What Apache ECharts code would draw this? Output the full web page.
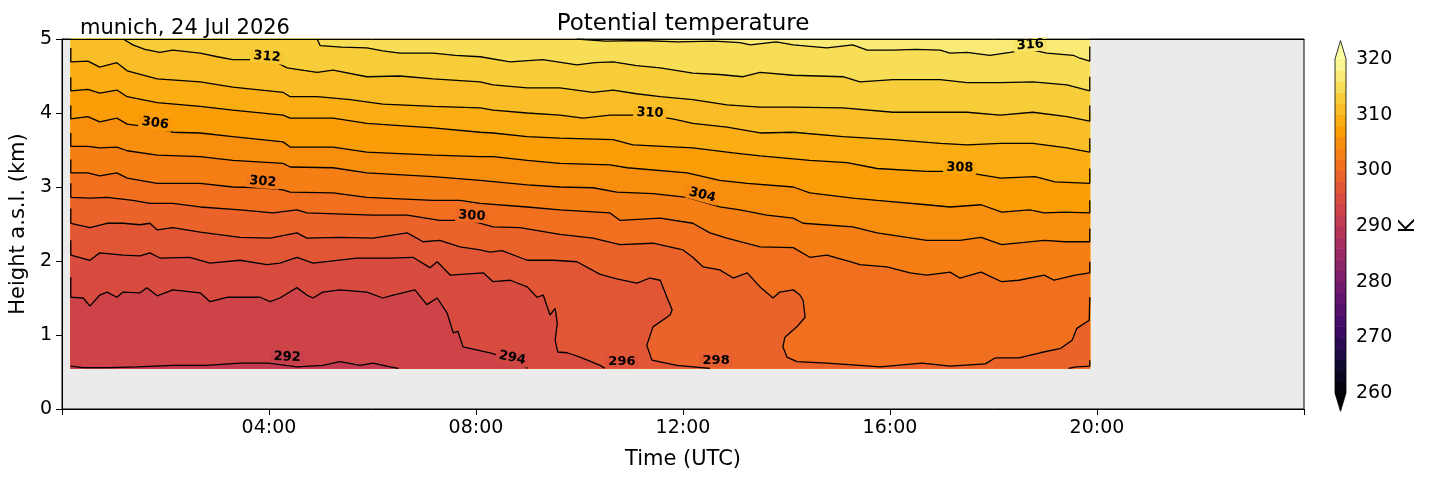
<!DOCTYPE html>
<html>
<head>
<meta charset="utf-8">
<script src="https://cdn.jsdelivr.net/npm/echarts@6/dist/echarts.min.js"></script>
<style>
  html, body { margin: 0; padding: 0; background: #fff; }
  #chart { width: 1429px; height: 478px; }
</style>
</head>
<body>
<div id="chart"></div>
<script>
// extent of the measured field [hour UTC, km]
var tStart = 0.17, tEnd = 19.86, hBottom = 0.55, hTop = 5.0;

// isentropes, points are [hour UTC, height km]
var c292 = [[0.17,0.58],[0.4,0.56],[0.9,0.56],[1.45,0.57],[2.14,0.59],[2.80,0.59],[3.44,0.62],[4.0,0.62],[4.54,0.57],[5.04,0.59],[5.37,0.64],[5.76,0.59],[6.01,0.62],[6.34,0.57],[6.5,0.55]];
var c294 = [[0.17,1.78],[0.17,1.51],[0.41,1.50],[0.54,1.39],[0.73,1.54],[0.87,1.58],[1.06,1.51],[1.18,1.58],[1.51,1.57],[1.64,1.64],[1.84,1.53],[2.14,1.61],[2.67,1.57],[2.86,1.45],[3.19,1.51],[3.83,1.51],[4.02,1.45],[4.21,1.50],[4.54,1.64],[4.73,1.54],[4.85,1.50],[5.04,1.58],[5.37,1.61],[5.89,1.58],[6.20,1.50],[6.40,1.54],[6.82,1.61],[7.05,1.41],[7.25,1.50],[7.44,1.30],[7.56,1.03],[7.65,1.05],[7.75,0.84],[8.27,0.76],[8.6,0.69],[8.95,0.57],[9.0,0.55]];
var c296 = [[0.17,2.28],[0.17,2.08],[0.54,2.01],[0.73,2.11],[1.18,2.08],[1.51,2.07],[1.70,2.11],[1.89,2.04],[2.47,2.05],[2.86,1.97],[3.44,2.01],[3.96,1.95],[4.21,1.97],[4.54,2.05],[4.85,1.97],[5.70,2.04],[6.34,2.04],[6.78,2.05],[7.11,1.91],[7.25,1.99],[7.50,1.81],[8.14,1.84],[8.33,1.72],[8.66,1.74],[8.99,1.65],[9.18,1.51],[9.30,1.54],[9.43,1.27],[9.53,1.36],[9.57,1.16],[9.53,0.93],[9.58,0.77],[9.76,0.76],[10.01,0.70],[10.4,0.59],[10.49,0.55]];
var c298 = [[0.17,2.71],[0.17,2.51],[0.54,2.45],[0.87,2.51],[1.18,2.51],[1.51,2.49],[1.70,2.51],[1.84,2.42],[2.14,2.45],[2.67,2.39],[3.44,2.32],[4.02,2.31],[4.54,2.38],[4.73,2.31],[5.37,2.32],[6.01,2.31],[6.67,2.38],[6.98,2.26],[7.30,2.28],[7.69,2.19],[8.08,2.15],[8.27,2.12],[8.5,2.14],[8.99,2.01],[9.49,2.01],[9.95,1.99],[10.4,1.82],[10.72,1.76],[11.11,1.70],[11.36,1.77],[11.56,1.74],[11.69,1.51],[11.79,1.34],[11.75,1.27],[11.42,1.11],[11.30,0.86],[11.40,0.66],[11.88,0.59],[12.52,0.55]];
var c298b = [[19.45,0.55],[19.6,0.57],[19.86,0.58],[19.86,0.66]];
var c300 = [[0.17,3.05],[0.17,2.86],[0.54,2.85],[0.87,2.86],[1.37,2.82],[1.70,2.78],[2.14,2.78],[2.67,2.73],[3.44,2.69],[4.08,2.65],[4.54,2.69],[4.73,2.65],[6.01,2.62],[6.67,2.62],[7.30,2.55],[7.88,2.55],[8.33,2.46],[8.85,2.45],[9.62,2.36],[10.26,2.31],[10.78,2.22],[11.42,2.24],[12.0,2.15],[12.19,2.05],[12.39,1.92],[12.71,1.88],[12.97,1.77],[13.24,1.84],[13.49,1.65],[13.74,1.50],[13.87,1.58],[14.13,1.61],[14.26,1.54],[14.32,1.47],[14.36,1.24],[14.2,1.11],[13.97,0.97],[13.93,0.84],[14.01,0.70],[14.2,0.64],[14.78,0.62],[15.42,0.59],[15.81,0.57],[16.62,0.62],[17.16,0.58],[17.84,0.61],[18.03,0.69],[18.49,0.69],[18.90,0.76],[19.30,0.82],[19.52,0.93],[19.61,1.09],[19.85,1.20],[19.86,1.51]];
var c302 = [[0.17,3.37],[0.17,3.19],[0.50,3.19],[0.73,3.15],[1.06,3.19],[1.26,3.12],[1.84,3.05],[2.67,3.05],[3.30,3.00],[3.88,2.99],[4.27,2.96],[4.41,2.93],[5.24,2.92],[5.89,2.86],[7.17,2.82],[7.69,2.82],[8.08,2.78],[8.99,2.73],[9.62,2.69],[10.59,2.65],[10.78,2.55],[11.56,2.58],[12.19,2.51],[12.52,2.38],[12.85,2.31],[13.49,2.19],[14.13,2.18],[14.45,2.05],[14.78,2.08],[15.23,1.99],[15.42,1.95],[15.94,1.92],[16.39,1.84],[16.71,1.81],[17.16,1.85],[17.35,1.77],[17.76,1.85],[18.16,1.72],[18.49,1.74],[18.98,1.81],[19.17,1.74],[19.58,1.81],[19.86,1.84],[19.86,1.99]];
var c304 = [[0.17,3.73],[0.17,3.55],[0.50,3.55],[0.73,3.53],[1.06,3.54],[1.26,3.49],[1.84,3.43],[2.67,3.41],[3.30,3.36],[4.27,3.32],[4.41,3.27],[5.24,3.26],[5.89,3.19],[7.17,3.14],[8.08,3.09],[8.99,3.03],[9.62,3.00],[10.26,2.99],[10.72,2.93],[11.42,2.91],[12.08,2.86],[12.71,2.73],[13.10,2.69],[13.62,2.62],[14.13,2.58],[14.32,2.51],[15.28,2.46],[15.75,2.38],[16.71,2.28],[17.35,2.28],[17.76,2.32],[18.16,2.22],[18.98,2.28],[19.38,2.26],[19.86,2.26],[19.86,2.44]];
var c306 = [[0.17,4.10],[0.17,3.92],[0.50,3.95],[0.73,3.88],[1.06,3.93],[1.26,3.85],[1.80,3.80],[2.14,3.74],[2.67,3.73],[3.30,3.68],[4.27,3.61],[4.41,3.54],[5.24,3.54],[5.89,3.47],[7.17,3.43],[8.08,3.41],[8.33,3.41],[8.99,3.36],[9.62,3.32],[10.59,3.30],[10.92,3.26],[12.08,3.19],[12.71,3.09],[13.24,3.05],[14.13,3.00],[14.45,2.92],[15.28,2.85],[15.75,2.82],[16.71,2.76],[17.16,2.73],[17.76,2.76],[18.16,2.66],[18.7,2.69],[18.98,2.65],[19.38,2.66],[19.86,2.65],[19.86,2.82]];
var c308 = [[0.17,4.48],[0.17,4.30],[0.50,4.32],[0.73,4.27],[1.06,4.31],[1.26,4.22],[1.84,4.14],[2.67,4.09],[3.30,4.04],[4.27,3.97],[4.41,3.93],[5.24,3.93],[5.89,3.86],[7.17,3.80],[8.08,3.74],[8.33,3.73],[8.99,3.68],[9.62,3.66],[10.65,3.64],[11.03,3.57],[12.19,3.53],[12.97,3.46],[13.49,3.42],[14.45,3.36],[15.17,3.33],[15.75,3.25],[16.71,3.21],[17.35,3.21],[18.14,3.12],[18.8,3.14],[19.19,3.07],[19.86,3.05],[19.86,3.25]];
var c310 = [[0.17,4.88],[0.17,4.69],[0.50,4.70],[0.73,4.62],[1.06,4.68],[1.26,4.57],[1.84,4.46],[2.67,4.42],[3.30,4.35],[4.27,4.28],[4.41,4.22],[4.93,4.22],[5.57,4.18],[6.20,4.12],[7.17,4.09],[8.08,4.07],[8.33,4.04],[8.99,4.00],[9.62,3.97],[10.07,3.93],[10.59,3.97],[11.32,3.97],[11.8,3.92],[12.19,3.86],[12.85,3.81],[13.49,3.73],[14.13,3.74],[15.09,3.68],[16.06,3.64],[16.97,3.59],[17.49,3.57],[18.13,3.59],[18.76,3.59],[19.42,3.53],[19.86,3.47],[19.86,3.66]];
var c312 = [[1.18,5.0],[1.37,4.92],[1.6,4.86],[1.89,4.82],[2.14,4.85],[2.67,4.81],[3.0,4.76],[3.30,4.72],[3.77,4.72],[4.05,4.72],[4.35,4.61],[4.93,4.55],[5.24,4.58],[5.89,4.49],[6.53,4.50],[7.17,4.46],[8.08,4.42],[8.33,4.38],[8.99,4.34],[9.62,4.34],[10.26,4.28],[10.65,4.31],[11.1,4.26],[11.56,4.22],[12.19,4.18],[12.85,4.11],[13.49,4.08],[14.13,4.08],[15.09,4.07],[16.06,4.01],[16.97,4.01],[17.49,4.01],[18.13,3.97],[18.76,4.01],[19.42,3.95],[19.86,3.89],[19.86,4.10]];
var c314 = [[4.93,5.0],[4.99,4.91],[5.4,4.89],[5.89,4.88],[6.2,4.84],[6.53,4.81],[7.17,4.81],[7.6,4.78],[8.08,4.76],[8.66,4.69],[9.29,4.72],[9.95,4.65],[10.3,4.68],[10.65,4.69],[11.1,4.64],[11.56,4.61],[12.19,4.54],[12.7,4.52],[13.16,4.49],[13.49,4.55],[14.13,4.51],[15.09,4.49],[15.42,4.42],[16.06,4.45],[16.97,4.45],[17.49,4.41],[18.13,4.41],[18.76,4.42],[19.42,4.38],[19.86,4.30],[19.86,4.49]];
var c316 = [[9.95,5.0],[10.5,4.97],[11.2,4.98],[11.9,4.96],[12.6,4.97],[13.1,4.95],[13.3,4.92],[13.8,4.96],[14.13,4.92],[14.78,4.88],[15.28,4.92],[15.56,4.85],[16.06,4.85],[16.5,4.86],[16.97,4.85],[17.16,4.81],[17.49,4.82],[17.93,4.78],[18.32,4.82],[18.7,4.86],[19.03,4.81],[19.54,4.78],[19.67,4.74],[19.86,4.70],[19.86,4.90]];

var levels = [292, 294, 296, 298, 300, 302, 304, 306, 308, 310, 312, 314, 316];
var contours = [c292, c294, c296, c298, c300, c302, c304, c306, c308, c310, c312, c314, c316];

// inline contour labels [hour, km, level]
var labelPos = [[3.96,4.76,312],[1.80,3.86,306],[3.88,3.07,302],[7.92,2.61,300],[11.36,4.00,310],[12.37,2.89,304],[17.35,3.26,308],[18.71,4.92,316],[4.35,0.70,292],[8.70,0.69,294],[10.82,0.64,296],[12.64,0.66,298]];
var labelRot = {312: -5, 306: -8, 302: -5, 300: -4, 310: -3, 304: -15, 308: -2, 316: 4, 292: -2, 294: -12, 296: 0, 298: 0};

// colour bar
var cbMin = 260, cbMax = 320;
var cbBands = [260, 262, 264, 266, 268, 270, 272, 274, 276, 278, 280, 282, 284, 286, 288, 290, 292, 294, 296, 298, 300, 302, 304, 306, 308, 310, 312, 314, 316, 318];
var cbExtend = 3.3;

// inferno colormap
var infernoStops = [
  [0.000, '#000004'], [0.100, '#160b39'], [0.111, '#1b0c41'], [0.200, '#420a68'],
  [0.222, '#4a0c6b'], [0.300, '#6a176e'], [0.333, '#781c6d'], [0.400, '#932667'],
  [0.444, '#a52c60'], [0.500, '#bc3754'], [0.556, '#cf4446'], [0.600, '#dd513a'],
  [0.667, '#ed6925'], [0.700, '#f37819'], [0.778, '#fb9b06'], [0.800, '#fca50a'],
  [0.889, '#f7d13d'], [0.900, '#f6d746'], [1.000, '#fcffa4']
];
function hexRgb(h) {
  return [parseInt(h.substr(1, 2), 16), parseInt(h.substr(3, 2), 16), parseInt(h.substr(5, 2), 16)];
}
function inferno(p) {
  p = Math.max(0, Math.min(1, p));
  for (var i = 1; i < infernoStops.length; i++) {
    if (p <= infernoStops[i][0]) {
      var a = infernoStops[i - 1], b = infernoStops[i];
      var f = (p - a[0]) / (b[0] - a[0]);
      var ca = hexRgb(a[1]), cb = hexRgb(b[1]);
      return 'rgb(' + ca.map(function (v, k) { return Math.round(v + (cb[k] - v) * f); }).join(',') + ')';
    }
  }
  return infernoStops[infernoStops.length - 1][1];
}
function bandColor(lo) { return inferno((lo + 1 - cbMin) / (cbMax - cbMin)); }

// filled bands: everything above the top isentrope first, then each isentrope
// paints the region below it with the band just under its level
var fills = [{
  pts: [[tStart, hBottom], [tStart, hTop], [tEnd, hTop], [tEnd, hBottom]],
  color: bandColor(levels[levels.length - 1])
}];
for (var i = levels.length - 1; i >= 0; i--) {
  var c = contours[i];
  var pts = c.slice();
  if (c[0][1] >= hTop - 0.001) pts.unshift([tStart, hTop]);
  if (c[c.length - 1][1] <= hBottom + 0.001) {
    pts.push([tStart, hBottom]);
  } else {
    pts.push([tEnd, hBottom]);
    pts.push([tStart, hBottom]);
  }
  fills.push({ pts: pts, color: bandColor(levels[i] - 2) });
}

var chart = echarts.init(document.getElementById('chart'));
var font = 'DejaVu Sans';

var lineSeries = contours.concat([c298b]).map(function (c) {
  return {
    type: 'line',
    xAxisIndex: 0, yAxisIndex: 0,
    data: c,
    showSymbol: false,
    symbol: 'none',
    silent: true,
    z: 3,
    lineStyle: { color: '#000', width: 1.3 }
  };
});

var option = {
  animation: false,
  backgroundColor: '#fff',
  textStyle: { fontFamily: font },
  title: [
    { text: 'Potential temperature', left: 683, top: 13, padding: 0, textAlign: 'center',
      textStyle: { fontFamily: font, fontSize: 23, fontWeight: 'normal', color: '#000' } },
    { text: 'munich, 24 Jul 2026', left: 80, top: 18, padding: 0,
      textStyle: { fontFamily: font, fontSize: 21, fontWeight: 'normal', color: '#000' } }
  ],
  grid: [
    { left: 62, top: 39, width: 1242, height: 370, show: true, backgroundColor: '#ebebeb',
      borderColor: '#000', borderWidth: 1 },
    { left: 1335, top: 59, width: 11, height: 334 }
  ],
  xAxis: [
    {
      type: 'value', gridIndex: 0, min: 0, max: 24, interval: 4, z: 10,
      name: 'Time (UTC)', nameLocation: 'middle', nameGap: 40,
      nameTextStyle: { fontFamily: font, fontSize: 21, color: '#000' },
      axisLine: { lineStyle: { color: '#000', width: 1 } },
      axisTick: { length: 6, lineStyle: { color: '#000' } },
      axisLabel: {
        fontFamily: font, fontSize: 19, color: '#000', margin: 10,
        formatter: function (v) {
          if (v === 0 || v === 24) return '';
          return (v < 10 ? '0' : '') + v + ':00';
        }
      },
      splitLine: { show: false }
    },
    {
      type: 'value', gridIndex: 0, min: 0, max: 24, position: 'top', z: 10,
      axisLine: { lineStyle: { color: '#000', width: 1 } },
      axisTick: { show: false }, axisLabel: { show: false }, splitLine: { show: false }
    },
    { type: 'value', gridIndex: 1, min: 0, max: 1, show: false }
  ],
  yAxis: [
    {
      type: 'value', gridIndex: 0, min: 0, max: 5, interval: 1, z: 10,
      name: 'Height a.s.l. (km)', nameLocation: 'middle', nameGap: 30,
      nameTextStyle: { fontFamily: font, fontSize: 21, color: '#000' },
      axisLine: { show: true, lineStyle: { color: '#000', width: 1 } },
      axisTick: { show: true, length: 6, lineStyle: { color: '#000' } },
      axisLabel: { fontFamily: font, fontSize: 19, color: '#000', margin: 10 },
      splitLine: { show: false }
    },
    {
      type: 'value', gridIndex: 1, min: cbMin, max: cbMax, interval: 10, position: 'right',
      name: 'K', nameLocation: 'middle', nameGap: 52, nameRotate: 90,
      nameTextStyle: { fontFamily: font, fontSize: 21, color: '#000' },
      axisLine: { show: false },
      axisTick: { show: true, length: 5, lineStyle: { color: '#000' } },
      axisLabel: { fontFamily: font, fontSize: 19, color: '#000', margin: 10 },
      splitLine: { show: false }
    }
  ],
  series: [
    {
      type: 'custom',
      xAxisIndex: 0, yAxisIndex: 0,
      silent: true,
      z: 1,
      data: fills.map(function (f, k) { return [k, 0]; }),
      renderItem: function (params, api) {
        var f = fills[params.dataIndex];
        return {
          type: 'polygon',
          shape: { points: f.pts.map(function (p) { return api.coord(p); }) },
          style: { fill: f.color, stroke: f.color, lineWidth: 0.6 }
        };
      }
    }
  ].concat(lineSeries).concat([
    {
      type: 'custom',
      xAxisIndex: 0, yAxisIndex: 0,
      silent: true,
      z: 5,
      data: labelPos,
      renderItem: function (params, api) {
        var lab = labelPos[params.dataIndex];
        var p = api.coord([lab[0], lab[1]]);
        return {
          type: 'text',
          x: p[0], y: p[1],
          rotation: (labelRot[lab[2]] || 0) * Math.PI / 180,
          style: {
            text: String(lab[2]),
            fill: '#000',
            font: 'bold 13px "DejaVu Sans"',
            align: 'center', verticalAlign: 'middle',
            backgroundColor: inferno((lab[2] - cbMin) / (cbMax - cbMin)),
            padding: [0, 3]
          }
        };
      }
    },
    {
      type: 'custom',
      xAxisIndex: 2, yAxisIndex: 1,
      silent: true,
      clip: false,
      data: cbBands.map(function (lo) { return [0.5, lo]; }),
      renderItem: function (params, api) {
        var lo = cbBands[params.dataIndex];
        var a = api.coord([0, lo]), b = api.coord([1, lo + 2]);
        return {
          type: 'rect',
          shape: { x: a[0], y: b[1], width: b[0] - a[0], height: a[1] - b[1] + 0.5 },
          style: { fill: bandColor(lo) }
        };
      }
    },
    {
      type: 'custom',
      xAxisIndex: 2, yAxisIndex: 1,
      silent: true,
      clip: false,
      z: 4,
      data: [[0.5, 290]],
      renderItem: function (params, api) {
        var bl = api.coord([0, cbMin]), tl = api.coord([0, cbMax]);
        var tr = api.coord([1, cbMax]), br = api.coord([1, cbMin]);
        var tip = api.coord([0.5, cbMax + cbExtend]), bot = api.coord([0.5, cbMin - cbExtend]);
        return {
          type: 'group',
          children: [
            { type: 'polygon', shape: { points: [tl, tip, tr] }, style: { fill: inferno(1) } },
            { type: 'polygon', shape: { points: [bl, br, bot] }, style: { fill: inferno(0) } },
            { type: 'polygon', shape: { points: [bl, tl, tip, tr, br, bot] },
              style: { fill: null, stroke: '#000', lineWidth: 0.8 } }
          ]
        };
      }
    }
  ])
};

chart.setOption(option);
</script>
</body>
</html>
